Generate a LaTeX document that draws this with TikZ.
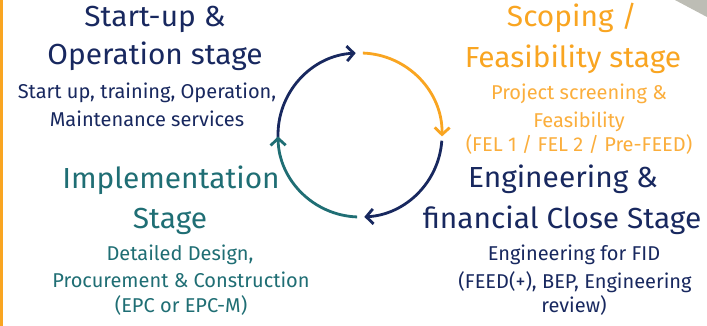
\documentclass[tikz,border=0pt]{standalone}
\usepackage{fontspec}
\setmainfont{Fira Sans}
\usetikzlibrary{arrows.meta}
\definecolor{navy}{HTML}{18285F}
\definecolor{orng}{HTML}{F9A521}
\definecolor{orngl}{HTML}{FBAE3C}
\definecolor{tealc}{HTML}{1F6E74}
\definecolor{greyc}{HTML}{BDBDB5}
\begin{document}
\begin{tikzpicture}[x=1pt,y=1pt,
  title/.style={font=\fontsize{29}{32}\selectfont\addfontfeature{FakeStretch=1.03}, anchor=base, inner sep=0pt},
  sub/.style={font=\fontsize{20}{24}\selectfont, anchor=base, inner sep=0pt},
  cyc/.style={line width=2.8pt, -{Straight Barb[length=7pt,width=15pt]}}]
\useasboundingbox (0,0) rectangle (707,-326);
\fill[white] (0,0) rectangle (707,-326);
\fill[orng] (0,0) rectangle (3,-326);
\fill[greyc] (675,0) -- (707,0) -- (707,-17) -- cycle;
% cycle
\coordinate (c) at (360,-135);
\draw[cyc,navy]  ([shift={(182:82pt)}]c) arc[start angle=182,end angle=93,radius=82pt];
\draw[cyc,orng]  ([shift={(88:82pt)}]c) arc[start angle=88,end angle=-1,radius=82pt];
\draw[cyc,navy]  ([shift={(-4:82pt)}]c) arc[start angle=-4,end angle=-87,radius=82pt];
\draw[cyc,tealc] ([shift={(-92:82pt)}]c) arc[start angle=-92,end angle=-179,radius=82pt];
% Start-up & Operation
\node[title,text=navy] (s1) at (155,-27) {Start-up \&};
\node[title,text=navy] (s2) at (155,-65) {Operation stage};
\node[sub,text=navy] (s3) at (147,-99) {Start up, training, Operation,};
\node[sub,text=navy] (s4) at (147,-127) {Maintenance services};
% Scoping
\node[title,text=orng] (f1) at (572,-27) {Scoping /};
\node[title,text=orng] (f2) at (573,-68) {Feasibility stage};
\node[sub,text=orngl] (f3) at (579,-100) {Project screening \&};
\node[sub,text=orngl] (f4) at (579,-128) {Feasibility};
\node[sub,text=orngl] (f5) at (579,-152) {(FEL 1 / FEL 2 / Pre-FEED)};
% Engineering
\node[title,text=navy] (e1) at (563,-187) {Engineering \&};
\node[title,text=navy] (e2) at (562,-228) {financial Close Stage};
\node[sub,text=navy] (e3) at (574,-260) {Engineering for FID};
\node[sub,text=navy] (e4) at (575,-288) {(FEED(+), BEP, Engineering};
\node[sub,text=navy] (e5) at (574,-312) {review)};
% Implementation
\node[title,text=tealc] (i1) at (171,-188) {Implementation};
\node[title,text=tealc] (i2) at (170,-228) {Stage};
\node[sub,text=tealc] (i3) at (180,-260) {Detailed Design,};
\node[sub,text=tealc] (i4) at (181,-287) {Procurement \& Construction};
\node[sub,text=tealc] (i5) at (181,-312) {(EPC or EPC-M)};
\end{tikzpicture}
\end{document}
